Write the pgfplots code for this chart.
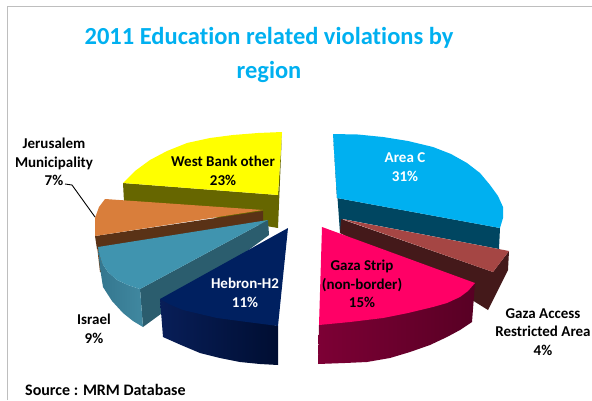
\documentclass[border=0pt]{standalone}
\usepackage{pgfplots}
\pgfplotsset{compat=1.18}
\usepackage{fontspec}
\setmainfont[Ligatures=NoCommon]{Carlito}
\definecolor{cC}{HTML}{00B0F0}\definecolor{cCd}{HTML}{004661}
\definecolor{cA}{HTML}{A54644}\definecolor{cAd}{HTML}{44191A}
\definecolor{cG}{HTML}{FF0066}
\definecolor{cH}{HTML}{002060}
\definecolor{cI}{HTML}{4094AF}\definecolor{cId}{HTML}{2B5D6E}
\definecolor{cJ}{HTML}{D97E3B}\definecolor{cJd}{HTML}{5A3216}
\definecolor{cW}{HTML}{FFFF00}\definecolor{cWd}{HTML}{666600}
\definecolor{tb}{HTML}{00B0F0}
\tikzset{lab/.style={font=\fontsize{15}{18.5}\selectfont\bfseries,align=center,text=black,inner sep=0pt}}
\begin{document}
\begin{tikzpicture}
\path[use as bounding box] (0,0) rectangle (592pt,400pt);
\begin{axis}[scale only axis,width=592pt,height=400pt,xmin=0,xmax=592,ymin=0,ymax=400,y dir=reverse,hide axis,clip=false,
  every axis plot/.append style={draw=none,forget plot}]
% frame
\addplot[draw={rgb,255:red,190;green,190;blue,190},line width=1pt] coordinates {(7,400)(7,6.5)(592,6.5)};
% West Bank other
\addplot[fill=cWd] coordinates {(123,183)(278,195)(282,132)(278,228)(124,202)} --cycle;
\addplot[fill=cW] coordinates {(282,132)(258,133)(233,135)(210,138)(187,143)(167,151)(150,160)(135,171)(123,183)(278,195)} --cycle;
% Area C
\addplot[fill=cCd] coordinates {(333,134)(337,198)(500,228)(499,249)(343,219)(340,233)} --cycle;
\addplot[fill=cC] coordinates {(333,134)(358,134.5)(383,137)(408,141)(433,147)(451,154)(467,163)(480,173)(490,185)(498,196)(503,207)(503,218)(500,228)(337,198)} --cycle;
% Gaza access
\addplot[fill=cAd] coordinates {(341,219)(493,272)(509,251)(508,270)(488,310)(472,300)(340,233)} --cycle;
\addplot[fill=cA] coordinates {(342,219)(509,251)(493,272)} --cycle;
% Gaza strip
\addplot[left color={rgb,255:red,125;green,0;blue,53},right color={rgb,255:red,88;green,0;blue,36}] coordinates {(475,283)(472,322)(460,330)(447,337)(430,345)(410,352)(390,358)(367,362)(345,363)(318,364)(319,325)} --cycle;
\addplot[fill=cG] coordinates {(322,227)(475,283)(468,291)(460,297)(447,303)(433,307)(408,313)(383,318)(350,322)(319,325)} --cycle;
% Jerusalem
\addplot[fill={rgb,255:red,120;green,70;blue,30}] coordinates {(97,246)(100,272)(103,272)(103,246)} --cycle;
\addplot[fill=cJd] coordinates {(95,236)(263,211)(263,223)(97,249)} --cycle;
\addplot[fill=cJ] coordinates {(263,210)(105,199)(99,207)(95,218)(95,236)} --cycle;
% Israel
\addplot[fill=cId] coordinates {(140,289)(268,220)(269,235)(143,327)} --cycle;
\addplot[left color={rgb,255:red,52;green,118;blue,142},right color={rgb,255:red,64;green,136;blue,160}] coordinates {(98,247)(100,268)(103,287)(112,301)(123,313)(133,321)(143,327)(140,289)(128,285)(117,280)(108,272)(102,263)(100,256)} --cycle;
\addplot[fill=cI] coordinates {(268,220)(98,247)(100,256)(102,263)(108,272)(117,280)(128,285)(140,289)} --cycle;
% Hebron
\addplot[left color={rgb,255:red,8;green,30;blue,88},right color={rgb,255:red,0;green,14;blue,50}] coordinates {(160,299)(163,337)(181,345)(200,353)(220,358)(240,362)(260,364)(278,365)(278,326)} --cycle;
\addplot[fill=cH] coordinates {(288,228)(160,299)(171,305)(183,310)(200,314)(217,318)(247,322)(278,326)} --cycle;
% leader
\addplot[draw=black,line width=0.9pt] coordinates {(65,184)(72,185)(95,217)};
% text
\node[font=\fontsize{24.5}{34}\selectfont\bfseries,align=center,text=tb] at (axis cs:269,55) {2011 Education related violations by\\region};
\node[lab,text=white] at (axis cs:405,167) {Area C\\31\%};
\node[lab] at (axis cs:223,171) {West Bank other\\23\%};
\node[lab,text=white] at (axis cs:245,293) {Hebron-H2\\11\%};
\node[lab] at (axis cs:362,284) {Gaza Strip\\(non-border)\\15\%};
\node[lab] at (axis cs:543,332) {Gaza Access\\Restricted Area\\4\%};
\node[lab] at (axis cs:94,329) {Israel\\9\%};
\node[lab] at (axis cs:54,162) {Jerusalem\\Municipality\\7\%};
\node[lab,anchor=west,font=\fontsize{16}{18}\selectfont\bfseries] at (axis cs:25,390) {Source : MRM Database};
\end{axis}
\end{tikzpicture}
\end{document}
